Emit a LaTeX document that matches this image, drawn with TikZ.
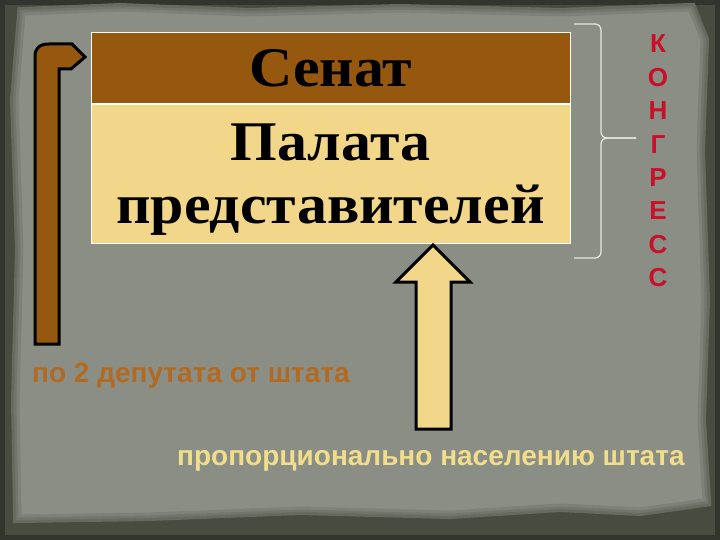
\documentclass[tikz,border=0pt]{standalone}
\usepackage{fontspec}
\setmainfont{Liberation Serif}
\setsansfont{Liberation Sans}
\newfontfamily\chamberfont{Liberation Serif}[FakeStretch=1.07]
\usetikzlibrary{arrows}
\definecolor{frame}{RGB}{72,76,64}
\definecolor{paper}{RGB}{139,142,133}
\definecolor{senatebrown}{RGB}{150,88,14}
\definecolor{housebeige}{RGB}{242,215,138}
\definecolor{congressred}{RGB}{200,16,40}
\definecolor{senatetext}{RGB}{178,106,34}
\definecolor{housetext}{RGB}{240,222,140}
\tikzset{
  {chamber/.style} ={rectangle, draw=white, line width=1pt, inner sep=0,
                minimum width=479pt, text=black, align=center,
                font=\chamberfont\bfseries\fontsize{56}{63}\selectfont},
  {senate box/.style} ={chamber, fill=senatebrown, minimum height=71pt},
  {house box/.style} ={chamber, fill=housebeige, minimum height=138pt,
                text depth=0pt},
  {block arrow/.style} ={draw=black, line width=3pt, line join=miter},
  {brace line/.style} ={draw=white!80!paper, line width=1.2pt, rounded corners=6pt},
  {note/.style} ={inner sep=0, font=\sffamily\bfseries\fontsize{28}{32}\selectfont},
  {letters/.style} ={inner sep=0, align=center, text=congressred,
                font=\sffamily\bfseries\fontsize{26}{33.4}\selectfont},
}
\begin{document}
\begin{tikzpicture}[x=1pt,y=-1pt]
\useasboundingbox (0,0) rectangle (720,540);

% background
\fill[frame!70!black] (0,0) rectangle (720,540);
\fill[frame] (5,5) rectangle (715,535);
\foreach \w/\c in {14/45,8/62,3/80}
  \draw[line width=\w pt, paper!\c!frame, fill=paper]
    (24,14) -- (120,10) -- (250,15) -- (400,11) -- (560,15) -- (690,10)
    -- (702,40) -- (698,150) -- (703,300) -- (699,420) -- (704,500)
    -- (640,509) -- (560,505) -- (450,512) -- (300,508) -- (150,514)
    -- (20,516) -- (18,400) -- (22,250) -- (17,100) -- cycle;

\node[senate box] (senate) at (330.5,68.5) {Сенат};
\node[house box, anchor=north] (house) at (senate.south) {Палата\\представителей};

\node[letters] (congress) at (658,161) {К\\О\\Н\\Г\\Р\\Е\\С\\С};
\draw[brace line] (574,24) -- (601,24) -- (601,138) -- (636,138);
\draw[brace line] (636,138) -- (601,138) -- (601,258) -- (574,258);

\draw[block arrow, fill=senatebrown] (59,344) -- (35,344) -- (35,56)
  .. controls (35,48) and (40,44) .. (49,44) -- (72,44) -- (85,57)
  -- (71,69) -- (59,69) -- cycle;
\draw[block arrow, fill=housebeige] (433,245) -- (470,282) -- (451,282)
  -- (451,429) -- (416,429) -- (416,282) -- (396,282) -- cycle;

\node[note, text=senatetext, anchor=base west] (perstate) at (32,382) {по 2 депутата от штата};
\node[note, text=housetext, anchor=base west] (bypop) at (177,465) {пропорционально населению штата};
\end{tikzpicture}
\end{document}
